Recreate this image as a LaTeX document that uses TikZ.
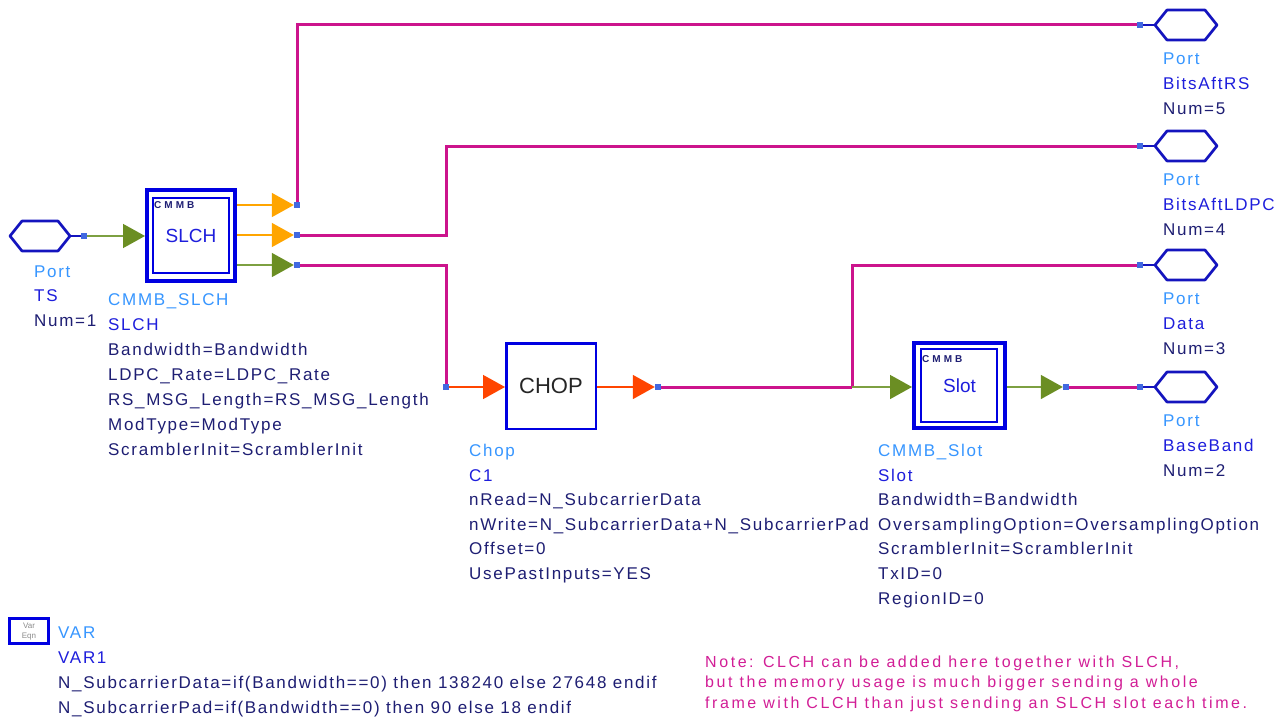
\documentclass[tikz,border=0pt]{standalone}
\usepackage{fontspec}
\setmainfont{Liberation Sans}
\newfontfamily\lblfont[LetterSpace=10]{Liberation Sans}
\newfontfamily\notefont[LetterSpace=16]{Liberation Sans}
\newfontfamily\cmmbfont[LetterSpace=30]{Liberation Sans}
\usetikzlibrary{arrows.meta,calc}
\definecolor{wirec}{RGB}{204,20,140}
\definecolor{orng}{RGB}{255,165,0}
\definecolor{grn}{RGB}{107,142,35}
\definecolor{grnline}{RGB}{125,160,65}
\definecolor{ored}{RGB}{255,69,0}
\definecolor{sqc}{RGB}{65,105,225}
\definecolor{lblue}{RGB}{55,150,255}
\definecolor{nblue}{RGB}{30,30,220}
\definecolor{navyc}{RGB}{30,30,115}
\definecolor{boxblue}{RGB}{0,0,225}
\definecolor{hexblue}{RGB}{20,20,190}
\definecolor{notec}{RGB}{210,30,150}
\newcommand\hexat[1]{\draw[hexline] (#1.west) -- ([xshift=12pt]#1.north west) -- ([xshift=-12pt]#1.north east) -- (#1.east) -- ([xshift=-12pt]#1.south east) -- ([xshift=12pt]#1.south west) -- cycle;}
\begin{document}
\begin{tikzpicture}[x=1pt,y=-1pt,
  lbl/.style={anchor=base west, inner sep=0, font=\lblfont\fontsize{17}{20}\selectfont},
  lb1/.style={lbl, text=lblue},
  lb2/.style={lbl, text=nblue},
  lb3/.style={lbl, text=navyc},
  notelbl/.style={anchor=base west, inner sep=0, text=notec, font=\notefont\fontsize{16}{20}\selectfont},
  cmmb/.style={anchor=base west, inner sep=0, text=navyc, font=\cmmbfont\bfseries\fontsize{10}{10}\selectfont},
  wire/.style={draw=wirec, line width=3pt},
  jnct/.style={fill=sqc, draw=none, minimum size=6pt, inner sep=0},
  orgline/.style={draw=orng, line width=1.5pt},
  grline/.style={draw=grnline, line width=1.5pt},
  redline/.style={draw=ored, line width=1.5pt},
  tipG/.style={-{Triangle[length=22pt,width=24pt,color=grn]}},
  tipO/.style={-{Triangle[length=22pt,width=24pt,color=orng]}},
  tipR/.style={-{Triangle[length=22pt,width=24pt,color=ored]}},
  hexline/.style={draw=hexblue, line width=2.7pt, line join=round},
  portnode/.style={minimum width=60pt, minimum height=30pt, inner sep=0, outer sep=0},
  outerbox/.style={draw=boxblue, line width=4pt, inner sep=0, text=nblue, font=\fontsize{19}{19}\selectfont},
  innerline/.style={draw=boxblue, line width=2pt},
  chopbox/.style={draw=boxblue, line width=2.5pt, inner sep=0, minimum width=89.5pt, minimum height=85.5pt, text=black!85, font=\fontsize{22}{22}\selectfont}]
\fill[white] (0,0) rectangle (1282,717);
\useasboundingbox (0,0) rectangle (1282,717);

% ports
\node[portnode] (ts) at (40,236) {};
\node[portnode, minimum width=62pt] (p5) at (1186,25) {};
\node[portnode, minimum width=62pt] (p4) at (1186,146) {};
\node[portnode, minimum width=62pt] (p3) at (1186,265) {};
\node[portnode, minimum width=62pt] (p2) at (1186,387) {};
\hexat{ts}\hexat{p5}\hexat{p4}\hexat{p3}\hexat{p2}

% boxes
\node[outerbox, minimum width=88pt, minimum height=91pt] (slch) at (191,235.5) {SLCH};
\draw[innerline] ([xshift=8pt,yshift=-10pt]slch.north west) rectangle ([xshift=-8pt,yshift=10pt]slch.south east);
\node[cmmb] (slchtag) at (154,208) {CMMB};
\node[chopbox] (chop) at (551,386) {CHOP};
\node[outerbox, minimum width=91pt, minimum height=85pt] (slot) at (959.5,385.5) {Slot};
\draw[innerline] ([xshift=9pt,yshift=-8pt]slot.north west) rectangle ([xshift=-10pt,yshift=8pt]slot.south east);
\node[cmmb] (slottag) at (922,362) {CMMB};

% junction positions
\coordinate (tsj) at (84,236);
\coordinate (o1) at (297,205);
\coordinate (o2) at (297,235);
\coordinate (o3) at (297,265);
\coordinate (chin) at (446,387);
\coordinate (chout) at (658,387);
\coordinate (slout) at (1066,387);
\coordinate (p5j) at (1140,25);
\coordinate (p4j) at (1140,146);
\coordinate (p3j) at (1140,265);
\coordinate (p2j) at (1140,387);
\coordinate (k1) at (446,146);
\coordinate (k2) at (852,387);

% wires
\draw[wire] (o1) |- (p5j);
\draw[wire] (o2) -| (k1) -- (p4j);
\draw[wire] (o3) -| (chin);
\draw[wire] (chout) -- (k2);
\draw[wire] (k2) |- (p3j);
\draw[wire] (slout) -- (p2j);
\draw[hexline] (ts.east) -- (tsj);
\draw[hexline] (p5j) -- (p5.west);
\draw[hexline] (p4j) -- (p4.west);
\draw[hexline] (p3j) -- (p3.west);
\draw[hexline] (p2j) -- (p2.west);

% junction squares
\node[jnct] (tsq) at (tsj) {};
\node[jnct] (o1q) at (o1) {};
\node[jnct] (o2q) at (o2) {};
\node[jnct] (o3q) at (o3) {};
\node[jnct] (chinq) at (chin) {};
\node[jnct] (choutq) at (chout) {};
\node[jnct] (sloutq) at (slout) {};
\node[jnct] (p5q) at (p5j) {};
\node[jnct] (p4q) at (p4j) {};
\node[jnct] (p3q) at (p3j) {};
\node[jnct] (p2q) at (p2j) {};

% signal lines with arrows
\draw[grline, tipG] (tsq.east) -- (tsq.east -| slch.west);
\draw[orgline, tipO] (o1 -| slch.east) -- (o1q.west);
\draw[orgline, tipO] (o2 -| slch.east) -- (o2q.west);
\draw[grline, tipG] (o3 -| slch.east) -- (o3q.west);
\draw[redline, tipR] (chinq.east) -- (chinq.east -| chop.west);
\draw[redline, tipR] (chin -| chop.east) -- (choutq.west);
\draw[grline, tipG] (k2) -- (k2 -| slot.west);
\draw[grline, tipG] (k2 -| slot.east) -- (sloutq.west);

% port labels
\node[lb1] (tsl1) at (34,277) {Port};
\node[lb2] (tsl2) at (34,301) {TS};
\node[lb3] (tsl3) at (34,326) {Num=1};
\node[lb1] (p5l1) at (1163,64) {Port};
\node[lb2] (p5l2) at (1163,89) {BitsAftRS};
\node[lb3] (p5l3) at (1163,114) {Num=5};
\node[lb1] (p4l1) at (1163,185) {Port};
\node[lb2] (p4l2) at (1163,210) {BitsAftLDPC};
\node[lb3] (p4l3) at (1163,235) {Num=4};
\node[lb1] (p3l1) at (1163,304) {Port};
\node[lb2] (p3l2) at (1163,329) {Data};
\node[lb3] (p3l3) at (1163,354) {Num=3};
\node[lb1] (p2l1) at (1163,426) {Port};
\node[lb2] (p2l2) at (1163,451) {BaseBand};
\node[lb3] (p2l3) at (1163,476) {Num=2};

% SLCH labels
\node[lb1] (sl1) at (108,305) {CMMB\_SLCH};
\node[lb2] (sl2) at (108,330) {SLCH};
\node[lb3] (sl3) at (108,355) {Bandwidth=Bandwidth};
\node[lb3] (sl4) at (108,380) {LDPC\_Rate=LDPC\_Rate};
\node[lb3] (sl5) at (108,405) {RS\_MSG\_Length=RS\_MSG\_Length};
\node[lb3] (sl6) at (108,430) {ModType=ModType};
\node[lb3] (sl7) at (108,455) {ScramblerInit=ScramblerInit};

% Chop labels
\node[lb1] (cl1) at (469,456) {Chop};
\node[lb2] (cl2) at (469,481) {C1};
\node[lb3] (cl3) at (469,505) {nRead=N\_SubcarrierData};
\node[lb3] (cl4) at (469,530) {nWrite=N\_SubcarrierData+N\_SubcarrierPad};
\node[lb3] (cl5) at (469,554) {Offset=0};
\node[lb3] (cl6) at (469,579) {UsePastInputs=YES};

% Slot labels
\node[lb1] (ol1) at (878,456) {CMMB\_Slot};
\node[lb2] (ol2) at (878,481) {Slot};
\node[lb3] (ol3) at (878,505) {Bandwidth=Bandwidth};
\node[lb3] (ol4) at (878,530) {OversamplingOption=OversamplingOption};
\node[lb3] (ol5) at (878,554) {ScramblerInit=ScramblerInit};
\node[lb3] (ol6) at (878,579) {TxID=0};
\node[lb3] (ol7) at (878,604) {RegionID=0};

% VAR block
\node[draw=boxblue, line width=3pt, minimum width=39pt, minimum height=25pt, inner sep=0] (varicon) at (29,631) {};
\node[text=black!45, font=\fontsize{8}{8}\selectfont, inner sep=0] (vart1) at (29,626) {Var};
\node[text=black!45, font=\fontsize{8}{8}\selectfont, inner sep=0] (vart2) at (29,637) {Eqn};
\node[lb1] (vl1) at (58,638) {VAR};
\node[lb2] (vl2) at (58,663) {VAR1};
\node[lb3] (vl3) at (58,688) {N\_SubcarrierData=if(Bandwidth==0) then 138240 else 27648 endif};
\node[lb3] (vl4) at (58,713) {N\_SubcarrierPad=if(Bandwidth==0) then 90 else 18 endif};

% note
\node[notelbl] (n1) at (705,667) {Note: CLCH can be added here together with SLCH,};
\node[notelbl] (n2) at (705,687.5) {but the memory usage is much bigger sending a whole};
\node[notelbl] (n3) at (705,708) {frame with CLCH than just sending an SLCH slot each time.};
\end{tikzpicture}
\end{document}
